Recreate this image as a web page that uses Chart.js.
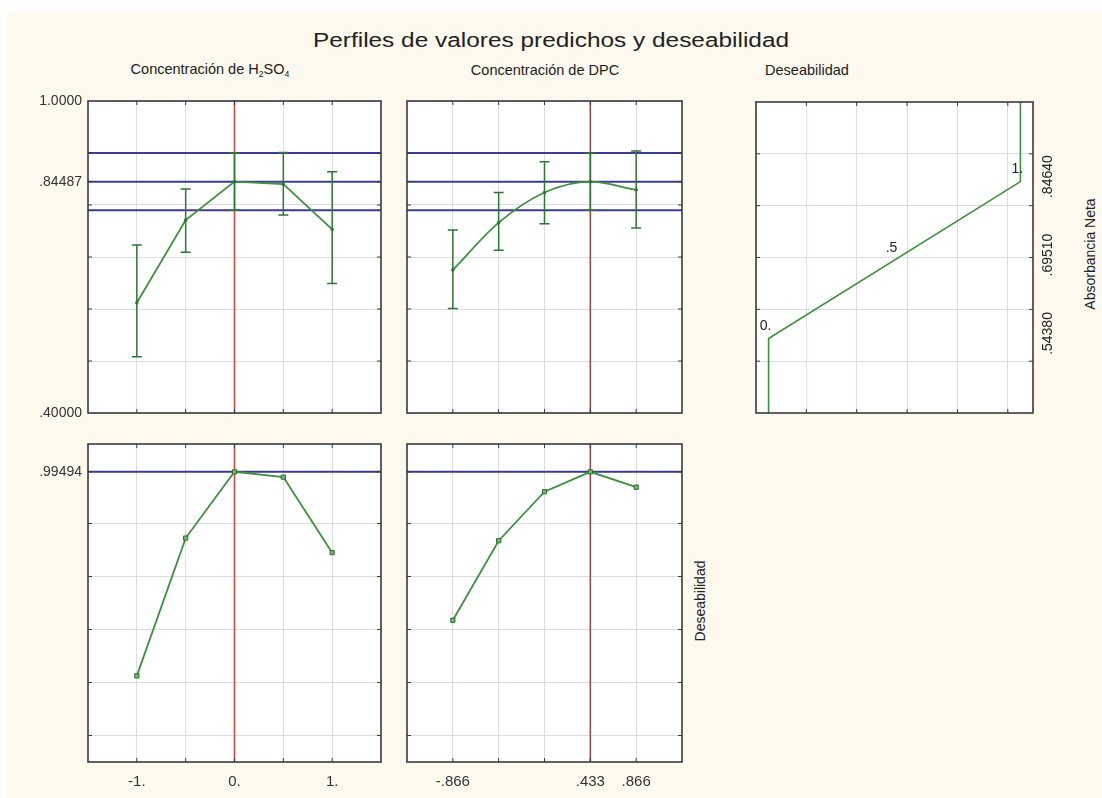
<!DOCTYPE html>
<html>
<head>
<meta charset="utf-8">
<script src="https://cdn.jsdelivr.net/npm/chart.js@4.4.1/dist/chart.umd.min.js"></script>
<style>
html, body { margin: 0; width: 1102px; height: 798px; overflow: hidden; background: #fff; position: relative; font-family: "Liberation Sans", Arial, sans-serif; }
#bg { position: absolute; left: 7px; top: 13px; right: 0; bottom: 0; background: #fdf9ee; }
canvas { position: absolute; }
.t { position: absolute; color: #222; white-space: nowrap; transform: translate(-50%, -50%); }
.r { transform: translate(-50%, -50%) rotate(-90deg); }
sub { font-size: 0.6em; vertical-align: -0.25em; }
</style>
</head>
<body>
<div id="bg"></div>
<div class="t" style="left:551px;top:40px;font-size:20px;transform:translate(-50%,-50%) scaleX(1.22)">Perfiles de valores predichos y deseabilidad</div>
<div class="t" style="left:210px;top:70px;font-size:14.5px">Concentración de H<sub>2</sub>SO<sub>4</sub></div>
<div class="t" style="left:545px;top:70px;font-size:14.5px">Concentración de DPC</div>
<div class="t" style="left:807px;top:70px;font-size:14.5px">Deseabilidad</div>
<div class="t r" style="left:1090px;top:254px;font-size:14px">Absorbancia Neta</div>
<div class="t r" style="left:700px;top:601px;font-size:14px">Deseabilidad</div>

<canvas id="c1" width="370" height="325" style="left:20px;top:95px"></canvas>
<canvas id="c2" width="290" height="325" style="left:400px;top:95px"></canvas>
<canvas id="c3" width="352" height="325" style="left:750px;top:95px"></canvas>
<canvas id="c4" width="370" height="352" style="left:20px;top:438px"></canvas>
<canvas id="c5" width="290" height="352" style="left:400px;top:438px"></canvas>

<script>
// factor levels
const h2so4X = [-1, -0.5, 0, 0.5, 1];
const dpcX = [-0.866, -0.433, 0, 0.433, 0.866];

// predicted absorbance with confidence limits
const h2so4Abs = [0.612, 0.771, 0.8449, 0.840, 0.753];
const h2so4Lo = [0.508, 0.709, 0.790, 0.781, 0.649];
const h2so4Hi = [0.723, 0.831, 0.900, 0.901, 0.864];
const dpcAbs = [0.675, 0.766, 0.824, 0.8449, 0.829];
const dpcLo = [0.601, 0.713, 0.764, 0.790, 0.756];
const dpcHi = [0.752, 0.824, 0.883, 0.900, 0.904];

// desirability profiles
const h2so4Des = [0.225, 0.745, 0.995, 0.975, 0.69];
const dpcDes = [0.435, 0.735, 0.92, 0.995, 0.937];

// current settings and reference lines
const h2so4Current = 0;
const dpcCurrent = 0.433;
const absLines = [0.9, 0.84487, 0.79];
const desLines = [0.99494];

// desirability function for Absorbancia Neta
const desFnX = [0, 0, 1, 1];
const desFnAbs = [0.4, 0.5438, 0.8464, 1.0];
const desFnLabelX = [0, 0.5, 1];
const desFnLabelAbs = [0.5438, 0.6951, 0.8464];
const desFnLabels = ['0.', '.5', '1.'];
const absRightTicks = [0.5438, 0.6951, 0.8464];
const absRightLabels = ['.54380', '.69510', '.84640'];

// tick labels
const absTicks = [0.4, 0.5, 0.6, 0.7, 0.8, 0.84487, 0.9, 1.0];
const absTickLabels = ['.40000', '', '', '', '', '.84487', '', '1.0000'];
const desTicks = [0, 0.2, 0.4, 0.6, 0.8, 0.99494];
const desTickLabels = ['', '', '', '', '', '.99494'];
const h2so4TickLabels = ['-1.', '', '0.', '', '1.'];
const dpcTickLabels = ['-.866', '', '', '.433', '.866'];

Chart.defaults.font.family = '"Liberation Sans", Arial, sans-serif';
Chart.defaults.color = '#333';

const GRID = '#dcdce6';
const GREEN = '#3f8f3f';
const BLUE = '#3b3b8f';

const frame = {
    id: 'frame',
    beforeDraw(chart) {
        const a = chart.chartArea;
        chart.ctx.save();
        chart.ctx.fillStyle = '#ffffff';
        chart.ctx.fillRect(a.left, a.top, a.right - a.left, a.bottom - a.top);
        chart.ctx.restore();
    },
    afterDraw(chart) {
        const ctx = chart.ctx;
        const a = chart.chartArea;
        ctx.save();
        ctx.strokeStyle = '#3a3a3a';
        ctx.lineWidth = 1;
        ctx.beginPath();
        chart.scales.x.ticks.forEach(t => {
            const px = chart.scales.x.getPixelForValue(t.value);
            if (px <= a.left + 1 || px >= a.right - 1) return;
            ctx.moveTo(px, a.top); ctx.lineTo(px, a.top + 4);
            ctx.moveTo(px, a.bottom); ctx.lineTo(px, a.bottom - 4);
        });
        chart.scales.y.ticks.forEach(t => {
            const py = chart.scales.y.getPixelForValue(t.value);
            if (py <= a.top + 1 || py >= a.bottom - 1) return;
            ctx.moveTo(a.left, py); ctx.lineTo(a.left + 4, py);
            ctx.moveTo(a.right, py); ctx.lineTo(a.right - 4, py);
        });
        ctx.stroke();
        ctx.lineWidth = 1.6;
        ctx.strokeRect(a.left, a.top, a.right - a.left, a.bottom - a.top);
        ctx.restore();
    }
};

function errorBars(xs, lo, hi) {
    return {
        id: 'errorBars',
        afterDatasetsDraw(chart) {
            const ctx = chart.ctx;
            const x = chart.scales.x, y = chart.scales.y;
            ctx.save();
            ctx.strokeStyle = '#2f7533';
            ctx.lineWidth = 1.5;
            ctx.beginPath();
            xs.forEach((v, i) => {
                const px = x.getPixelForValue(v);
                const p1 = y.getPixelForValue(lo[i]);
                const p2 = y.getPixelForValue(hi[i]);
                ctx.moveTo(px, p1); ctx.lineTo(px, p2);
                ctx.moveTo(px - 5, p1); ctx.lineTo(px + 5, p1);
                ctx.moveTo(px - 5, p2); ctx.lineTo(px + 5, p2);
            });
            ctx.stroke();
            ctx.restore();
        }
    };
}

const desFnText = {
    id: 'desFnText',
    afterDraw(chart) {
        const ctx = chart.ctx;
        const x = chart.scales.x, y = chart.scales.y;
        ctx.save();
        ctx.fillStyle = '#222';
        ctx.font = '14px "Liberation Sans", Arial, sans-serif';
        ctx.textAlign = 'center';
        ctx.textBaseline = 'middle';
        desFnLabelX.forEach((v, i) => {
            ctx.fillText(desFnLabels[i], x.getPixelForValue(v) - 3, y.getPixelForValue(desFnLabelAbs[i]) - 12);
        });
        absRightTicks.forEach((v, i) => {
            ctx.save();
            ctx.translate(chart.chartArea.right + 15, y.getPixelForValue(v) - 5);
            ctx.rotate(-Math.PI / 2);
            ctx.fillText(absRightLabels[i], 0, 0);
            ctx.restore();
        });
        ctx.restore();
    }
};

function hline(v, xmin, xmax) {
    return { data: [{ x: xmin, y: v }, { x: xmax, y: v }], borderColor: BLUE, borderWidth: 2, pointRadius: 0, order: 3 };
}
function vline(v, ymin, ymax, color) {
    return { data: [{ x: v, y: ymin }, { x: v, y: ymax }], borderColor: color, borderWidth: 1.6, pointRadius: 0, order: 2 };
}
function curve(xs, ys, smooth, radius) {
    return {
        data: xs.map((x, i) => ({ x: x, y: ys[i] })),
        borderColor: GREEN, borderWidth: 1.8,
        tension: smooth ? 0.4 : 0,
        cubicInterpolationMode: smooth ? 'monotone' : 'default',
        pointStyle: 'rect', pointRadius: radius,
        pointBackgroundColor: '#7cb07c', pointBorderColor: '#2e6e2e', pointBorderWidth: 1,
        order: 1
    };
}

function axis(opt) {
    return {
        type: 'linear',
        position: opt.position,
        min: opt.min, max: opt.max,
        border: { display: false },
        grid: {
            drawTicks: false,
            color: c => (c.tick && opt.hide && opt.hide.includes(c.tick.value)) ? 'rgba(0,0,0,0)' : GRID,
            lineWidth: 1
        },
        ticks: {
            display: !!opt.labels,
            autoSkip: false, maxRotation: 0, minRotation: 0,
            padding: opt.padding || 6,
            color: '#333',
            font: { size: opt.fontSize || 14 },
            callback: (v, i) => opt.labels ? opt.labels[i] : ''
        },
        afterBuildTicks: scale => { scale.ticks = opt.ticks.map(v => ({ value: v })); },
        afterFit: scale => {
            if (opt.width !== undefined) scale.width = opt.width;
            if (opt.height !== undefined) scale.height = opt.height;
            scale.paddingTop = 0; scale.paddingBottom = 0;
            scale.paddingLeft = 0; scale.paddingRight = 0;
        }
    };
}

function panel(id, datasets, padding, xAxis, yAxis, extra) {
    return new Chart(document.getElementById(id), {
        type: 'line',
        data: { datasets: datasets },
        options: {
            responsive: false,
            animation: false,
            events: [],
            layout: { padding: padding },
            plugins: { legend: { display: false }, tooltip: { enabled: false } },
            scales: { x: axis(xAxis), y: axis(yAxis) }
        },
        plugins: [frame].concat(extra || [])
    });
}

// top left: absorbance vs H2SO4
panel('c1',
    [curve(h2so4X, h2so4Abs, false, 1.5), vline(h2so4Current, 0.4, 1.0, '#cc4d48')]
        .concat(absLines.map(v => hline(v, -1.5, 1.5))),
    { top: 6, right: 9 },
    { position: 'bottom', min: -1.5, max: 1.5, ticks: h2so4X, height: 7 },
    { position: 'left', min: 0.4, max: 1.0, ticks: absTicks, labels: absTickLabels, hide: [0.84487], width: 68 },
    [errorBars(h2so4X, h2so4Lo, h2so4Hi)]);

// top middle: absorbance vs DPC
panel('c2',
    [curve(dpcX, dpcAbs, true, 1.5), vline(dpcCurrent, 0.4, 1.0, '#9c4a48')]
        .concat(absLines.map(v => hline(v, -1.299, 1.299))),
    { top: 6, right: 8 },
    { position: 'bottom', min: -1.299, max: 1.299, ticks: dpcX, height: 7 },
    { position: 'left', min: 0.4, max: 1.0, ticks: absTicks, hide: [0.84487], width: 7 },
    [errorBars(dpcX, dpcLo, dpcHi)]);

// top right: desirability function
panel('c3',
    [{ data: desFnX.map((x, i) => ({ x: x, y: desFnAbs[i] })), borderColor: GREEN, borderWidth: 1.6, pointRadius: 0, tension: 0 }],
    { top: 7, left: 6 },
    { position: 'bottom', min: -0.05, max: 1.05, ticks: [0.15, 0.35, 0.55, 0.75, 0.95], height: 7 },
    { position: 'right', min: 0.4, max: 1.0, ticks: [0.5, 0.6, 0.7, 0.8, 0.9], width: 69 },
    [desFnText]);

// bottom left: desirability vs H2SO4
panel('c4',
    [curve(h2so4X, h2so4Des, false, 3), vline(h2so4Current, -0.1, 1.1, '#cc4d48')]
        .concat(desLines.map(v => hline(v, -1.5, 1.5))),
    { top: 6, right: 9 },
    { position: 'bottom', min: -1.5, max: 1.5, ticks: h2so4X, labels: h2so4TickLabels, padding: 11, fontSize: 15, height: 28 },
    { position: 'left', min: -0.1, max: 1.1, ticks: desTicks, labels: desTickLabels, hide: [0.99494], width: 68 });

// bottom middle: desirability vs DPC
panel('c5',
    [curve(dpcX, dpcDes, false, 3), vline(dpcCurrent, -0.1, 1.1, '#9c4a48')]
        .concat(desLines.map(v => hline(v, -1.299, 1.299))),
    { top: 6, right: 8 },
    { position: 'bottom', min: -1.299, max: 1.299, ticks: dpcX, labels: dpcTickLabels, padding: 11, fontSize: 15, height: 28 },
    { position: 'left', min: -0.1, max: 1.1, ticks: desTicks, hide: [0.99494], width: 7 });
</script>
</body>
</html>
